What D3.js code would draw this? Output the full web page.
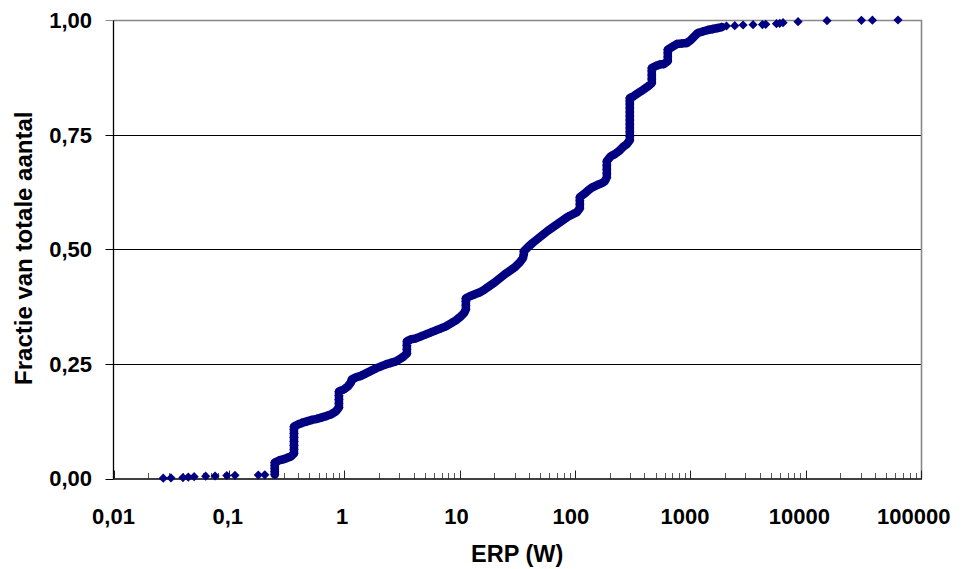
<!DOCTYPE html>
<html><head><meta charset="utf-8">
<script src="https://cdn.jsdelivr.net/npm/d3@7/dist/d3.min.js"></script>
<style>body{margin:0;background:#fff}text{font-family:"Liberation Sans",Arial,sans-serif;font-weight:bold;fill:#000}</style>
</head><body>
<svg id="c" width="962" height="569"></svg>
<script>
// ---- data ----
const lowErp  = [0.027,0.0315,0.040,0.0445,0.050,0.063,0.076,0.096,0.113,0.18,0.205];
const lowFrac = [0.0008,0.0012,0.002,0.003,0.004,0.005,0.0055,0.0065,0.007,0.0075,0.008];

const mainErp = [
 0.25,0.25,0.25,0.25,0.25, 0.272,0.294,0.319,0.345,
 0.367,0.367,0.367,0.367,0.367,0.367,0.367,0.367,
 0.397,0.43,0.475,0.525,0.58,0.641,0.708,0.782,0.847,
 0.9,0.9,0.9,0.9,0.9,
 0.994,1.077,1.143,1.166,1.263,1.395,1.542,1.704,1.883,2.08,2.298,2.54,2.806,3.099,3.291,
 3.494,3.494,3.494,3.494,
 3.784,4.18,4.62,5.105,5.64,6.23,6.89,7.61,8.41,9.29,10.26,10.9,
 11.34,11.34,11.34,11.34,
 12.28,13.57,15.0,16.57,18.31,20.23,22.35,24.69,27.29,30.15,33.31,35.36,
 36.07,36.07,
 39.07,43.17,47.7,52.7,58.25,64.35,71.1,78.56,86.8,95.9,103.9,
 110.3,110.3,110.3,110.3,
 119.5,129.4,140.1,154.8,171.1,181.6,
 189,189,189,189,189,
 204.7,221.7,240.2,260.1,281.7,
 299.1,299.1,299.1,299.1,299.1,299.1,299.1,299.1,299.1,299.1,299.1,299.1,
 323.9,350.9,387.7,428.3,
 463.9,463.9,463.9,463.9,463.9,
 502.3,544.1,589.3,
 638.3,638.3,638.3,638.3,
 691.3,763.8,844,932.6,1010,1072,1161,1283,1418,1567,1731,1875
];
const mainFrac = [
 0.0087,0.0153,0.0218,0.0284,0.0349, 0.0393,0.0415,0.0448,0.048,
 0.0546,0.0633,0.0721,0.0808,0.0895,0.0983,0.107,0.1135,
 0.1179,0.1212,0.1245,0.1277,0.1299,0.1332,0.1365,0.1408,0.1463,
 0.155,0.1638,0.1725,0.1812,0.19,
 0.1943,0.2009,0.2096,0.2162,0.2205,0.2238,0.2293,0.2347,0.2402,0.2445,0.2489,0.2522,0.2555,0.262,0.2664,
 0.2729,0.2817,0.2904,0.2991,
 0.3035,0.3057,0.31,0.3144,0.3188,0.3231,0.3275,0.3319,0.3384,0.345,0.3537,0.3603,
 0.369,0.3777,0.3865,0.393,
 0.3974,0.4017,0.4061,0.4127,0.4203,0.428,0.4367,0.4454,0.4531,0.4607,0.4716,0.4803,
 0.4891,0.4956,
 0.5044,0.5142,0.5229,0.5317,0.5404,0.548,0.5557,0.5633,0.571,0.5764,0.5808,
 0.5895,0.5983,0.607,0.6135,
 0.6201,0.6277,0.6343,0.6397,0.6441,0.6485,
 0.6572,0.6659,0.6747,0.6834,0.6921,
 0.703,0.7074,0.714,0.7227,0.7293,
 0.738,0.7467,0.7555,0.7642,0.7729,0.7817,0.7904,0.7991,0.8079,0.8166,0.8231,0.8297,
 0.8340,0.8400,0.8472,0.8548,
 0.8624,0.8712,0.8799,0.8886,0.8952,
 0.8996,0.9028,0.9039,
 0.9105,0.9192,0.9279,0.9356,
 0.941,0.9476,0.9487,0.9498,0.9563,0.9629,0.9716,0.9749,0.9782,0.9803,0.9825,0.9847
];

const highErp  = [2059,2430,2868,3501,4223,4510,5585,5965,6372,8594,15325,30450,37920,63190];
const highFrac = [0.9869,0.9876,0.9891,0.9897,0.99,0.9906,0.9919,0.9928,0.9941,0.9963,0.9985,0.9993,0.9996,1.0];

const xTicks = [0.01,0.1,1,10,100,1000,10000,100000];
const xTickLabels = ["0,01","0,1","1","10","100","1000","10000","100000"];
const yTicks = [0,0.25,0.5,0.75,1];
const yTickLabels = ["0,00","0,25","0,50","0,75","1,00"];
const xTitle = "ERP (W)";
const yTitle = "Fractie van totale aantal";

// ---- layout ----
const L = 113.5, R = 921, T = 20, B = 478.5;
const svg = d3.select("#c");
const x = d3.scaleLog().domain([0.01,100000]).range([L,R]);
const y = d3.scaleLinear().domain([0,1]).range([B,T]);
const col = "#000080";

// gridlines
svg.append("g").selectAll("line").data(yTicks.filter(d=>d>0&&d<1)).join("line")
  .attr("x1",L).attr("x2",R).attr("y1",d=>Math.round(y(d))+0.5).attr("y2",d=>Math.round(y(d))+0.5)
  .attr("stroke","#000").attr("stroke-width",1);
// plot border (top, right) gray
svg.append("path").attr("d",`M${L},${T+0.5}H${R+0.5}V${B}`).attr("fill","none")
  .attr("stroke","#888").attr("stroke-width",1.6);

// x minor/major ticks (inside)
const minor = [];
for (let e=-2;e<5;e++) for (let m=2;m<=9;m++) minor.push(m*Math.pow(10,e));
svg.append("g").selectAll("line").data(minor).join("line")
  .attr("x1",d=>Math.round(x(d))+0.5).attr("x2",d=>Math.round(x(d))+0.5)
  .attr("y1",B).attr("y2",B-5.5).attr("stroke","#555").attr("stroke-width",1);
svg.append("g").selectAll("line").data(xTicks).join("line")
  .attr("x1",d=>Math.round(x(d))+0.5).attr("x2",d=>Math.round(x(d))+0.5)
  .attr("y1",B).attr("y2",B-8).attr("stroke","#222").attr("stroke-width",1);

// axes lines
svg.append("line").attr("x1",L).attr("x2",L).attr("y1",T).attr("y2",B+0.5).attr("stroke","#000").attr("stroke-width",1.3);
svg.append("line").attr("x1",L-0.5).attr("x2",R+1).attr("y1",Math.round(B)).attr("y2",Math.round(B)).attr("stroke","#000").attr("stroke-width",1.6);
// y ticks (outside)
svg.append("g").selectAll("line").data(yTicks).join("line")
  .attr("x1",L-8).attr("x2",L).attr("y1",d=>Math.round(y(d))+0.5).attr("y2",d=>Math.round(y(d))+0.5)
  .attr("stroke",d=>d===1?"#888":"#000").attr("stroke-width",1);

// tick labels
svg.append("g").selectAll("text").data(yTicks).join("text")
  .attr("x",92).attr("y",d=>y(d)).attr("dy","0.36em").attr("text-anchor","end")
  .style("font-size","22px").text((d,i)=>yTickLabels[i]);
svg.append("g").selectAll("text").data(xTicks).join("text")
  .attr("x",d=>x(d)-0.009*(x(d)-L)).attr("y",523.5).attr("text-anchor","middle")
  .style("font-size","22px").text((d,i)=>xTickLabels[i]);

// titles
svg.append("text").attr("x",(L+R)/2).attr("y",562).attr("text-anchor","middle")
  .style("font-size","23.5px").text(xTitle);
svg.append("text").attr("transform",`translate(31.5,${(T+B)/2-1}) rotate(-90)`).attr("text-anchor","middle")
  .style("font-size","24px").text(yTitle);

// data
const mainPts = mainErp.map((v,i)=>[v,mainFrac[i]]);
const lowPts = lowErp.map((v,i)=>[v,lowFrac[i]]);
const highPts = highErp.map((v,i)=>[v,highFrac[i]]);
const line = d3.line().x(d=>x(d[0])).y(d=>y(d[1]));
svg.append("path").attr("d",line(mainPts)).attr("fill","none").attr("stroke",col)
  .attr("stroke-width",8.5).attr("stroke-linejoin","round").attr("stroke-linecap","round");
const r = 4.6;
const diamond = (px,py)=>`M${px},${py-r}L${px+r},${py}L${px},${py+r}L${px-r},${py}Z`;
svg.append("g").selectAll("path").data(lowPts.concat(mainPts,highPts)).join("path")
  .attr("d",d=>diamond(x(d[0]),y(d[1]))).attr("fill",col);
</script>
</body></html>
